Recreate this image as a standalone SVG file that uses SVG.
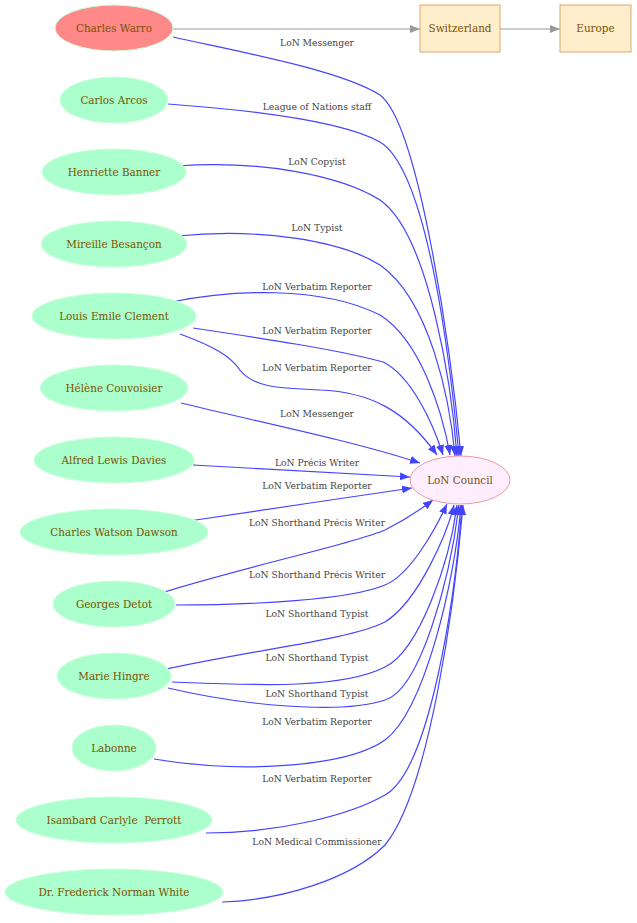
<svg xmlns="http://www.w3.org/2000/svg" width="637" height="923" viewBox="0 0 637 923">
<style>
.p ellipse{fill:#aaffcc;stroke:#ccffdd;stroke-width:1}
.w ellipse{fill:#ff8888;stroke:#ccffdd;stroke-width:1}
.c ellipse{fill:#ffeeff;stroke:#ee9999;stroke-width:1}
.b rect{fill:#ffeecc;stroke:#ddaa66;stroke-width:1}
.n text{font-family:"DejaVu Serif",serif;font-size:10.4px;fill:#7a5200;text-anchor:middle}
.e path{fill:none;stroke:#4444ff;stroke-width:1.2}
.e path.g{stroke:#999999}
.l text{font-family:"DejaVu Serif",serif;font-size:9.2px;fill:#444444;text-anchor:middle}
</style>
<defs>
<marker id="a" markerUnits="userSpaceOnUse" markerWidth="10" markerHeight="8" refX="10" refY="4" orient="auto"><path d="M0,0 L10,4 L0,8 z" fill="#4444ff"/></marker>
<marker id="ag" markerUnits="userSpaceOnUse" markerWidth="10" markerHeight="8" refX="10" refY="4" orient="auto"><path d="M0,0 L10,4 L0,8 z" fill="#999999"/></marker>
</defs>
<rect width="637" height="923" fill="#ffffff"/>
<g id="connectors" class="e">
<path class="g" d="M173,29 L420,29" marker-end="url(#ag)"/>
<path class="g" d="M500,29 L560,29" marker-end="url(#ag)"/>
<path d="M173,37 C240,52 340,70 380,95 C420,125 452,360 461,456" marker-end="url(#a)"/>
<path d="M168,104 C250,110 340,120 380,142 C430,172 452,380 459,456" marker-end="url(#a)"/>
<path d="M177,166 C260,160 340,175 380,200 C430,235 452,390 457,456" marker-end="url(#a)"/>
<path d="M177,236 C260,228 340,240 380,265 C430,300 450,400 455,456" marker-end="url(#a)"/>
<path d="M172,302 C230,290 320,285 380,315 C420,340 442,410 450,455" marker-end="url(#a)"/>
<path d="M193,328 C260,338 340,350 383,362 C410,375 432,420 443,455" marker-end="url(#a)"/>
<path d="M180,334 C210,345 230,355 240,370 C255,390 290,388 320,390 C370,392 405,410 437,455" marker-end="url(#a)"/>
<path d="M181,403 C250,420 350,440 420,463" marker-end="url(#a)"/>
<path d="M193,465 C270,469 340,473 410,477" marker-end="url(#a)"/>
<path d="M189,521 C260,510 340,499 412,488" marker-end="url(#a)"/>
<path d="M161,593 C250,565 350,545 385,530 C405,520 420,510 433,500" marker-end="url(#a)"/>
<path d="M176,605 C250,605 350,600 385,585 C410,575 435,530 447,504" marker-end="url(#a)"/>
<path d="M162,670 C250,650 350,640 385,622 C420,600 448,530 454,505" marker-end="url(#a)"/>
<path d="M172,682 C250,685 340,690 385,667 C420,650 450,560 457,505" marker-end="url(#a)"/>
<path d="M168,688 C240,705 340,715 385,700 C420,690 450,580 459,505" marker-end="url(#a)"/>
<path d="M154,759 C250,775 350,765 385,740 C425,710 455,580 461,505" marker-end="url(#a)"/>
<path d="M206,833 C280,833 350,815 385,795 C430,770 455,600 462,505" marker-end="url(#a)"/>
<path d="M222,902 C280,900 350,880 385,845 C430,790 455,600 463,505" marker-end="url(#a)"/>
</g>
<g id="edge-labels" class="l">
<text x="317" y="46">LoN Messenger</text>
<text x="317" y="110">League of Nations staff</text>
<text x="317" y="165">LoN Copyist</text>
<text x="317" y="231">LoN Typist</text>
<text x="317" y="290">LoN Verbatim Reporter</text>
<text x="317" y="334">LoN Verbatim Reporter</text>
<text x="317" y="371">LoN Verbatim Reporter</text>
<text x="317" y="417">LoN Messenger</text>
<text x="317" y="466">LoN Précis Writer</text>
<text x="317" y="489">LoN Verbatim Reporter</text>
<text x="317" y="526">LoN Shorthand Précis Writer</text>
<text x="317" y="578">LoN Shorthand Précis Writer</text>
<text x="317" y="617">LoN Shorthand Typist</text>
<text x="317" y="661">LoN Shorthand Typist</text>
<text x="317" y="697">LoN Shorthand Typist</text>
<text x="317" y="725">LoN Verbatim Reporter</text>
<text x="317" y="782">LoN Verbatim Reporter</text>
<text x="317" y="845">LoN Medical Commissioner</text>
</g>
<g id="n-warro" class="n w"><ellipse cx="114" cy="28" rx="59" ry="23"/><text x="114" y="32">Charles Warro</text></g>
<g id="n-switzerland" class="n b"><rect x="420" y="5" width="80" height="47"/><text x="460" y="32">Switzerland</text></g>
<g id="n-europe" class="n b"><rect x="560" y="5" width="71" height="47"/><text x="595.5" y="32">Europe</text></g>
<g id="n-arcos" class="n p"><ellipse cx="114" cy="100" rx="54" ry="23"/><text x="114" y="104">Carlos Arcos</text></g>
<g id="n-banner" class="n p"><ellipse cx="114" cy="172" rx="72" ry="23"/><text x="114" y="176">Henriette Banner</text></g>
<g id="n-besancon" class="n p"><ellipse cx="114" cy="244" rx="73" ry="23"/><text x="114" y="248">Mireille Besançon</text></g>
<g id="n-clement" class="n p"><ellipse cx="114" cy="316" rx="82" ry="23"/><text x="114" y="320">Louis Emile Clement</text></g>
<g id="n-couvoisier" class="n p"><ellipse cx="114" cy="388" rx="74" ry="23"/><text x="114" y="392">Hélène Couvoisier</text></g>
<g id="n-davies" class="n p"><ellipse cx="114" cy="460" rx="80" ry="23"/><text x="114" y="464">Alfred Lewis Davies</text></g>
<g id="n-dawson" class="n p"><ellipse cx="114" cy="532" rx="94" ry="23"/><text x="114" y="536">Charles Watson Dawson</text></g>
<g id="n-detot" class="n p"><ellipse cx="114" cy="604" rx="61" ry="23"/><text x="114" y="608">Georges Detot</text></g>
<g id="n-hingre" class="n p"><ellipse cx="114" cy="676" rx="57" ry="23"/><text x="114" y="680">Marie Hingre</text></g>
<g id="n-labonne" class="n p"><ellipse cx="114" cy="748" rx="42" ry="23"/><text x="114" y="752">Labonne</text></g>
<g id="n-perrott" class="n p"><ellipse cx="114" cy="820" rx="98" ry="23"/><text x="114" y="824" xml:space="preserve">Isambard Carlyle  Perrott</text></g>
<g id="n-white" class="n p"><ellipse cx="114" cy="892" rx="109" ry="23"/><text x="114" y="896">Dr. Frederick Norman White</text></g>
<g id="n-council" class="n c"><ellipse cx="460" cy="480" rx="50" ry="24"/><text x="460" y="484">LoN Council</text></g>
</svg>
